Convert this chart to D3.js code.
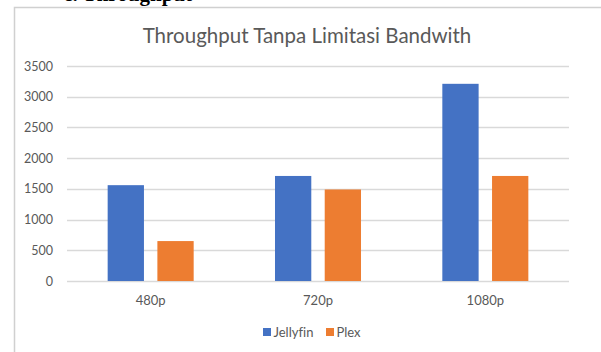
<!DOCTYPE html>
<html>
<head>
<meta charset="utf-8">
<script src="https://cdn.jsdelivr.net/npm/d3@7"></script>
<style>
  html, body { margin: 0; padding: 0; background: #fff; overflow: hidden; }
  svg { display: block; }
  text { font-variant-ligatures: none; }
</style>
</head>
<body>
<svg id="chart" width="601" height="352"></svg>
<script>
// data
var categories = ["480p", "720p", "1080p"];
var seriesNames = ["Jellyfin", "Plex"];
var jellyfin = [1560, 1710, 3210];
var plex = [650, 1490, 1710];
var yTicks = [0, 500, 1000, 1500, 2000, 2500, 3000, 3500];
var colors = ["#4472C4", "#ED7D31"];

var svg = d3.select("#chart");
var font = "Lato, 'Open Sans', sans-serif";

// heading of the surrounding document, cut off at the top in the source
svg.append("text")
    .attr("x", 192).attr("y", 1)
    .attr("text-anchor", "end")
    .style("font-family", "'Liberation Serif', serif")
    .style("font-weight", "bold")
    .style("font-size", "21px")
    .style("fill", "#000")
    .text("c. Throughput");

// chart frame
svg.append("rect")
    .attr("x", 14.5).attr("y", 7.5)
    .attr("width", 620).attr("height", 360)
    .style("fill", "#fff")
    .style("stroke", "#d0d0d0")
    .style("stroke-width", 1.5);

svg.append("text")
    .attr("x", 307).attr("y", 43)
    .attr("text-anchor", "middle")
    .style("font-family", font)
    .style("font-size", "20.5px")
    .style("fill", "#595959")
    .text("Throughput Tanpa Limitasi Bandwith");

var plot = {left: 67, right: 569, top: 66, bottom: 281};

var x0 = d3.scaleBand().domain(categories)
    .range([plot.left, plot.right])
    .paddingInner(0.486).paddingOuter(0.243);  // excel gap width ~219%
var x1 = d3.scaleBand().domain(seriesNames)
    .range([0, x0.bandwidth()]).paddingInner(0.27).paddingOuter(0);

var y = d3.scaleLinear().domain([0, 3500]).range([plot.bottom, plot.top]);

// gridlines
svg.append("g").selectAll("line")
    .data(yTicks).enter().append("line")
    .attr("x1", plot.left).attr("x2", plot.right)
    .attr("y1", function(d){ return Math.round(y(d)) + 0.5; })
    .attr("y2", function(d){ return Math.round(y(d)) + 0.5; })
    .style("stroke", "#d9d9d9")
    .style("stroke-width", 1.3);

// y axis labels
var yAxis = d3.axisLeft(y).tickValues(yTicks).tickFormat(d3.format("d"))
    .tickSize(0).tickPadding(0);
var gy = svg.append("g").attr("transform", "translate(53,0)").call(yAxis);
gy.select(".domain").remove();
gy.selectAll("text")
    .style("font-family", font)
    .style("font-size", "12.5px")
    .style("fill", "#595959");

// x axis labels
var xAxis = d3.axisBottom(x0).tickSize(0).tickPadding(0);
var gx = svg.append("g").attr("transform", "translate(0,296)").call(xAxis);
gx.select(".domain").remove();
gx.selectAll("text")
    .style("font-family", font)
    .style("font-size", "13px")
    .style("fill", "#595959");

// bars
var series = [jellyfin, plex];
var groups = svg.append("g").selectAll("g")
    .data(categories).enter().append("g")
    .attr("transform", function(d){ return "translate(" + x0(d) + ",0)"; });

groups.selectAll("rect")
    .data(function(d, i){
        return seriesNames.map(function(s, j){ return {name: s, value: series[j][i], idx: j}; });
    })
    .enter().append("rect")
    .attr("x", function(d){ return x1(d.name); })
    .attr("width", x1.bandwidth())
    .attr("y", function(d){ return y(d.value); })
    .attr("height", function(d){ return plot.bottom - y(d.value); })
    .style("fill", function(d){ return colors[d.idx]; });

// legend
var legendItems = [{name: "Jellyfin", x: 263}, {name: "Plex", x: 326}];
var lg = svg.append("g").selectAll("g")
    .data(legendItems).enter().append("g")
    .attr("transform", function(d){ return "translate(" + d.x + ",328)"; });
lg.append("rect")
    .attr("width", 8).attr("height", 8)
    .style("fill", function(d, i){ return colors[i]; });
lg.append("text")
    .attr("x", 10.5).attr("y", 9)
    .style("font-family", font)
    .style("font-size", "13px")
    .style("fill", "#595959")
    .text(function(d){ return d.name; });
</script>
</body>
</html>
